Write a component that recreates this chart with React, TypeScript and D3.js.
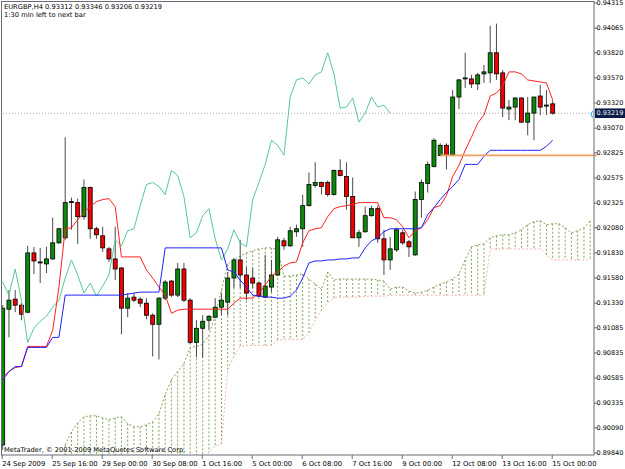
import React from 'react';
import * as d3 from 'd3';

const W = 625;
const H = 469;

// EURGBP H4 candles
const opens = [
  0.8992, 0.9127, 0.9137, 0.9131, 0.9124, 0.9183, 0.9174, 0.9172, 0.9177, 0.9193,
  0.9198, 0.9234, 0.9233, 0.9219, 0.9248, 0.9207, 0.9200, 0.9187, 0.9177, 0.9168,
  0.9128, 0.9139, 0.9137, 0.9133, 0.9121, 0.9112, 0.9138, 0.9155, 0.9141, 0.9167,
  0.9136, 0.9094, 0.9108, 0.9116, 0.9119, 0.9129, 0.9134, 0.9158, 0.9176, 0.9161,
  0.9158, 0.9153, 0.9139, 0.9149, 0.9161, 0.9195, 0.9190, 0.9204, 0.9207, 0.9230,
  0.9250, 0.9253, 0.9253, 0.9241, 0.9265, 0.9259, 0.9239, 0.9198, 0.9204, 0.9220,
  0.9227, 0.9197, 0.9176, 0.9186, 0.9203, 0.9194, 0.9181, 0.9236, 0.9252, 0.9269,
  0.9280, 0.9290, 0.9280, 0.9338, 0.9356, 0.9356, 0.9351, 0.9361, 0.9362, 0.9382,
  0.9362, 0.9326, 0.9328, 0.9337, 0.9313, 0.9322, 0.9339, 0.9329, 0.93312,
];
const highs = [
  0.9131, 0.9146, 0.9146, 0.9133, 0.9190, 0.9189, 0.9188, 0.9189, 0.9218, 0.9208,
  0.9298, 0.9238, 0.9237, 0.9256, 0.9249, 0.9209, 0.9209, 0.9189, 0.9209, 0.9169,
  0.9143, 0.9143, 0.9139, 0.9138, 0.9123, 0.9139, 0.9156, 0.9156, 0.9173, 0.9173,
  0.9138, 0.9116, 0.9121, 0.9121, 0.9138, 0.9143, 0.9164, 0.9178, 0.9196, 0.9169,
  0.9168, 0.9154, 0.9181, 0.9176, 0.9199, 0.9198, 0.9209, 0.9211, 0.9241, 0.9263,
  0.9273, 0.9254, 0.9255, 0.9266, 0.9276, 0.9273, 0.9258, 0.9206, 0.9229, 0.9230,
  0.9230, 0.9206, 0.9199, 0.9208, 0.9206, 0.9196, 0.9244, 0.9256, 0.9274, 0.9297,
  0.9292, 0.9292, 0.9345, 0.9356, 0.9382, 0.9360, 0.9362, 0.9370, 0.9409, 0.9411,
  0.9365, 0.9335, 0.9338, 0.9338, 0.9338, 0.9338, 0.9350, 0.9345, 0.93346,
];
const lows = [
  0.8987, 0.9099, 0.9124, 0.9116, 0.9123, 0.9162, 0.9153, 0.9163, 0.9176, 0.9192,
  0.9196, 0.9206, 0.9192, 0.9216, 0.9197, 0.9197, 0.9184, 0.9174, 0.9156, 0.9102,
  0.9119, 0.9134, 0.9129, 0.9117, 0.9080, 0.9077, 0.9136, 0.9139, 0.9139, 0.9134,
  0.9092, 0.9079, 0.9079, 0.9106, 0.9118, 0.9121, 0.9121, 0.9148, 0.9148, 0.9136,
  0.9148, 0.9139, 0.9138, 0.9144, 0.9160, 0.9186, 0.9189, 0.9199, 0.9189, 0.9229,
  0.9248, 0.9241, 0.9239, 0.9240, 0.9259, 0.9226, 0.9198, 0.9189, 0.9203, 0.9219,
  0.9193, 0.9161, 0.9166, 0.9184, 0.9191, 0.9179, 0.9180, 0.9218, 0.9243, 0.9268,
  0.9279, 0.9266, 0.9279, 0.9326, 0.9347, 0.9347, 0.9345, 0.9352, 0.9352, 0.9355,
  0.9318, 0.9315, 0.9315, 0.9312, 0.9300, 0.9295, 0.9320, 0.9320, 0.93206,
];
const closes = [
  0.9128, 0.9136, 0.9131, 0.9122, 0.9183, 0.9175, 0.9173, 0.9177, 0.9193, 0.9207,
  0.9233, 0.9233, 0.9219, 0.9248, 0.9207, 0.9201, 0.9188, 0.9177, 0.9167, 0.9128,
  0.9138, 0.9136, 0.9133, 0.9121, 0.9112, 0.9138, 0.9154, 0.9141, 0.9167, 0.9136,
  0.9094, 0.9108, 0.9115, 0.9120, 0.9129, 0.9136, 0.9158, 0.9176, 0.9161, 0.9143,
  0.9153, 0.9140, 0.9150, 0.9161, 0.9196, 0.9190, 0.9205, 0.9207, 0.9230, 0.9251,
  0.9253, 0.9249, 0.9241, 0.9265, 0.9260, 0.9239, 0.9198, 0.9203, 0.9220, 0.9227,
  0.9197, 0.9176, 0.9187, 0.9206, 0.9193, 0.9189, 0.9236, 0.9253, 0.9271, 0.9295,
  0.9290, 0.9280, 0.9338, 0.9355, 0.9357, 0.9351, 0.9360, 0.9363, 0.9382, 0.9361,
  0.9327, 0.9328, 0.9337, 0.9313, 0.9322, 0.9338, 0.9328, 0.9330, 0.93219,
];

// Ichimoku lines per bar
const tenkan = [
  0.9059, 0.9065, 0.9069, 0.9070, 0.9090, 0.9090, 0.9090, 0.9090, 0.9106, 0.9149,
  0.9207, 0.9208, 0.9216, 0.9223, 0.9229, 0.9234, 0.9236, 0.9237, 0.9229, 0.9179,
  0.9179, 0.9179, 0.9179, 0.9166, 0.9158, 0.9149, 0.9141, 0.9123, 0.9126, 0.9127,
  0.9127, 0.9127, 0.9127, 0.9127, 0.9127, 0.9127, 0.9127, 0.9133, 0.9138, 0.9138,
  0.9138, 0.9143, 0.9151, 0.9160, 0.9164, 0.9170, 0.9173, 0.9174, 0.9193, 0.9205,
  0.9207, 0.9208, 0.9219, 0.9227, 0.9229, 0.9230, 0.9231, 0.9233, 0.9233, 0.9233,
  0.9233, 0.9218, 0.9218, 0.9216, 0.9209, 0.9198, 0.9205, 0.9208, 0.9216, 0.9228,
  0.9230, 0.9240, 0.9259, 0.9270, 0.9285, 0.9298, 0.9312, 0.9320, 0.9339, 0.9342,
  0.9349, 0.9363, 0.9363, 0.9361, 0.9355, 0.9354, 0.9353, 0.9352, 0.9335,
];
const kijun = [
  0.9057, 0.9065, 0.9070, 0.9070, 0.9089, 0.9089, 0.9089, 0.9089, 0.9099, 0.9099,
  0.9141, 0.9141, 0.9141, 0.9141, 0.9141, 0.9141, 0.9141, 0.9141, 0.9141, 0.9141,
  0.9142, 0.9143, 0.9144, 0.9144, 0.9144, 0.9144, 0.9188, 0.9188, 0.9188, 0.9188,
  0.9188, 0.9188, 0.9188, 0.9188, 0.9188, 0.9188, 0.9166, 0.9164, 0.9156, 0.9149,
  0.9141, 0.9140, 0.9139, 0.9139, 0.9138, 0.9138, 0.9140, 0.9146, 0.9158, 0.9173,
  0.9175, 0.9175, 0.9176, 0.9176, 0.9177, 0.9177, 0.9178, 0.9178, 0.9188, 0.9195,
  0.9198, 0.9204, 0.9207, 0.9207, 0.9207, 0.9207, 0.9207, 0.9208, 0.9221, 0.9228,
  0.9236, 0.9243, 0.9249, 0.9256, 0.9271, 0.9271, 0.9271, 0.9279, 0.9285, 0.9285,
  0.9285, 0.9285, 0.9285, 0.9285, 0.9285, 0.9285, 0.9285, 0.9289, 0.9295,
];

// cloud, from bar 10 to bar 94 (runs past the last candle)
const cloudStart = 10;
const spanA = [
  0.8992, 0.9005, 0.9014, 0.9020, 0.9021, 0.9021, 0.9019, 0.9017, 0.9019, 0.9020,
  0.9013, 0.9010, 0.9010, 0.9012, 0.9015, 0.9023, 0.9042, 0.9057, 0.9065, 0.9073,
  0.9089, 0.9090, 0.9092, 0.9101, 0.9121, 0.9146, 0.9172, 0.9176, 0.9180, 0.9183,
  0.9185, 0.9187, 0.9188, 0.9188, 0.9186, 0.9160, 0.9160, 0.9161, 0.9162, 0.9157,
  0.9152, 0.9147, 0.9164, 0.9156, 0.9157, 0.9157, 0.9157, 0.9157, 0.9157, 0.9157,
  0.9156, 0.9155, 0.9147, 0.9149, 0.9149, 0.9145, 0.9143, 0.9144, 0.9146, 0.9149,
  0.9152, 0.9154, 0.9157, 0.9162, 0.9176, 0.9189, 0.9191, 0.9192, 0.9198, 0.9200,
  0.9201, 0.9201, 0.9203, 0.9206, 0.9211, 0.9214, 0.9215, 0.9211, 0.9212, 0.9212,
  0.9208, 0.9203, 0.9205, 0.9208, 0.9215,
];
const spanB = [
  0.8970, 0.8970, 0.8970, 0.8970, 0.8970, 0.8970, 0.8970, 0.8970, 0.8970, 0.8970,
  0.8970, 0.8970, 0.8970, 0.8970, 0.8970, 0.8970, 0.8970, 0.8970, 0.8970, 0.8970,
  0.8970, 0.8970, 0.8970, 0.8985, 0.8991, 0.8993, 0.9067, 0.9080, 0.9090, 0.9091,
  0.9091, 0.9091, 0.9091, 0.9091, 0.9096, 0.9097, 0.9097, 0.9097, 0.9097, 0.9103,
  0.9116, 0.9126, 0.9133, 0.9138, 0.9139, 0.9139, 0.9139, 0.9139, 0.9140, 0.9140,
  0.9140, 0.9140, 0.9141, 0.9141, 0.9141, 0.9141, 0.9141, 0.9141, 0.9141, 0.9141,
  0.9141, 0.9141, 0.9141, 0.9141, 0.9141, 0.9141, 0.9141, 0.9141, 0.9187, 0.9187,
  0.9187, 0.9187, 0.9187, 0.9187, 0.9187, 0.9187, 0.9187, 0.9181, 0.9176, 0.9176,
  0.9176, 0.9176, 0.9176, 0.9176, 0.9176,
];

const priceTicks = [
  0.94315, 0.94065, 0.9382, 0.9357, 0.9332, 0.9307, 0.92825, 0.92575, 0.92325, 0.9208,
  0.9183, 0.9158, 0.9133, 0.91085, 0.90835, 0.90585, 0.90335, 0.9009, 0.8984,
];
const timeLabels = [
  '24 Sep 2009', '25 Sep 16:00', '29 Sep 00:00', '30 Sep 08:00', '1 Oct 16:00', '5 Oct 00:00',
  '6 Oct 08:00', '7 Oct 16:00', '9 Oct 00:00', '12 Oct 08:00', '13 Oct 16:00', '15 Oct 00:00',
];
const timeLabelBars = [0, 8, 16, 24, 32, 40, 48, 56, 64, 72, 80, 88];

const levelPrice = 0.928;
const levelStartBar = 70;
const chikouShift = 26;

const font = 'DejaVu Sans, Verdana, sans-serif';

const App = () => {
  const plotRight = 594;
  const plotBottom = 455;
  const axisX = 596.5;

  const x = d3.scaleLinear().domain([0, 94]).range([2.7, 2.7 + 6.25 * 94]);
  const y = d3.scaleLinear().domain([0.8984, 0.94315]).range([453, 3]);
  const fmt = d3.format('.5f');

  const barLine = d3
    .line<number>()
    .x((_, i) => x(i))
    .y((d) => y(d));
  const cloudLine = d3
    .line<number>()
    .x((_, i) => x(i + cloudStart))
    .y((d) => y(d));

  const chikou = closes.slice(chikouShift);
  const bid = closes[closes.length - 1];

  return (
    <svg
      width={W}
      height={H}
      style={{ position: 'absolute', left: 0, top: 0, background: '#fff' }}
      fontFamily={font}
    >
      <defs>
        <clipPath id="plot">
          <rect x={1.5} y={1.5} width={plotRight - 1.5} height={plotBottom - 1.5} />
        </clipPath>
      </defs>
      <rect width={W} height={H} fill="#fff" />

      <g clipPath="url(#plot)">
        {/* cloud histogram */}
        {spanA.map((a, k) => (
          <line
            key={'h' + k}
            x1={x(k + cloudStart)}
            x2={x(k + cloudStart)}
            y1={y(a)}
            y2={y(spanB[k])}
            stroke={a >= spanB[k] ? '#86a35a' : '#f0b0b0'}
            strokeDasharray="2,2"
          />
        ))}
        <path d={cloudLine(spanA) || ''} fill="none" stroke="#86a35a" strokeDasharray="2,2" />
        <path d={cloudLine(spanB) || ''} fill="none" stroke="#f2b0b0" strokeDasharray="2,2" />

        {/* bid line */}
        <line x1={0} x2={plotRight} y1={y(bid)} y2={y(bid)} stroke="#aaa" strokeDasharray="1,2" />

        {/* candles */}
        {opens.map((o, i) => {
          const c = closes[i];
          const cx = x(i);
          const top = y(Math.max(o, c));
          const h = Math.max(1, y(Math.min(o, c)) - top);
          return (
            <g key={'c' + i}>
              <line x1={cx} x2={cx} y1={y(highs[i])} y2={y(lows[i])} stroke="#4a4a4a" />
              <rect
                x={cx - 2}
                y={top}
                width={4}
                height={h}
                fill={c >= o ? '#0a8a0a' : '#f00000'}
                stroke="#000"
                strokeWidth={0.8}
              />
            </g>
          );
        })}

        <path d={barLine(chikou) || ''} fill="none" stroke="#55c994" />
        <path d={barLine(tenkan) || ''} fill="none" stroke="#ff2020" />
        <path d={barLine(kijun) || ''} fill="none" stroke="#2020ff" />
      </g>

      {/* horizontal level */}
      <line
        x1={x(levelStartBar)}
        x2={plotRight + 3}
        y1={y(levelPrice)}
        y2={y(levelPrice)}
        stroke="#f0a060"
        strokeWidth={1.6}
      />

      {/* frame */}
      <rect
        x={1.5}
        y={1.5}
        width={plotRight - 1.5}
        height={plotBottom - 1.5}
        fill="none"
        stroke="#6a6a78"
      />

      {/* price axis */}
      {priceTicks.map((p) => (
        <g key={'p' + p}>
          <line x1={plotRight} x2={plotRight + 3} y1={y(p)} y2={y(p)} stroke="#6a6a78" />
          <text x={axisX} y={y(p)} dy="0.35em" fontSize={6.5} fill="#000">
            {fmt(p)}
          </text>
        </g>
      ))}
      <rect x={595} y={y(bid) - 4.8} width={30} height={9.6} fill="#0c1c48" />
      <text x={axisX} y={y(bid)} dy="0.35em" fontSize={6.5} fill="#fff">
        {fmt(bid)}
      </text>
      <path
        d={`M${plotRight - 1},${y(bid) - 2} Q${plotRight - 5},${y(bid) + 1} ${plotRight - 1},${y(bid) + 4}`}
        fill="none"
        stroke="#3ab8e0"
        strokeWidth={1.2}
      />

      {/* time axis */}
      {timeLabels.map((t, k) => (
        <g key={t}>
          <line
            x1={x(timeLabelBars[k]) - 0.5}
            x2={x(timeLabelBars[k]) - 0.5}
            y1={plotBottom}
            y2={plotBottom + 4}
            stroke="#6a6a78"
          />
          <text x={x(timeLabelBars[k]) - 0.5} y={466} fontSize={6.8} fill="#000">
            {t}
          </text>
        </g>
      ))}

      {/* header / footer */}
      <text x={4} y={8.5} fontSize={6.7} fill="#000">
        {`EURGBP,H4  ${fmt(opens[88])} ${fmt(highs[88])} ${fmt(lows[88])} ${fmt(closes[88])}`}
      </text>
      <text x={4} y={17} fontSize={6.7} fill="#000">
        1:30 min left to next bar
      </text>
      <text x={4} y={452} fontSize={6.7} fill="#000">
        MetaTrader, © 2001-2009 MetaQuotes Software Corp.
      </text>
    </svg>
  );
};

export default App;
